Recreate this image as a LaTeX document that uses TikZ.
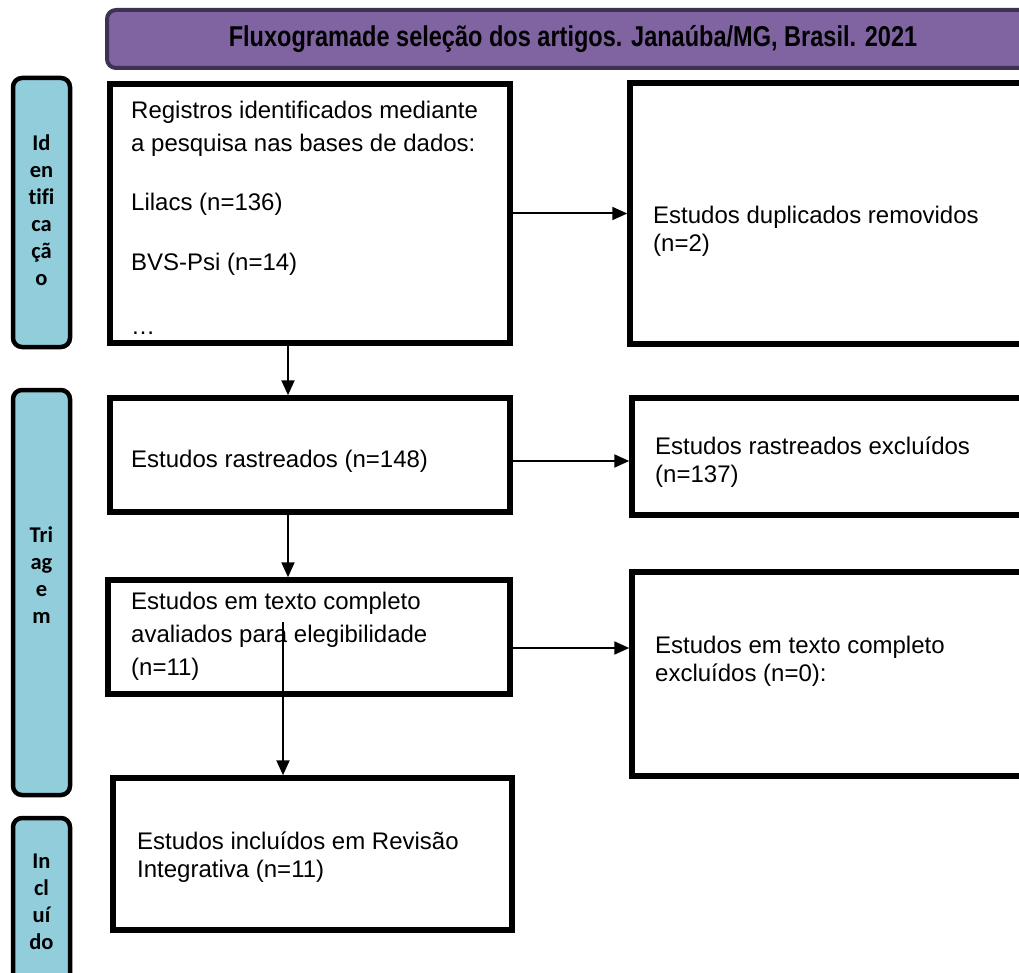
\documentclass[tikz,border=0pt]{standalone}
\usepackage{fontspec}
\setmainfont{Liberation Sans}
\newfontfamily\sidefont[Ligatures=NoCommon]{Carlito}
\newfontfamily\titlefont[FakeStretch=0.82]{Liberation Sans}
\usetikzlibrary{arrows.meta,calc}
\definecolor{titlefill}{HTML}{8064A2}
\definecolor{titledraw}{HTML}{3F3151}
\definecolor{sidefill}{HTML}{92CDDC}
\begin{document}
\begin{tikzpicture}[x=1pt,y=-1pt,
 box/.style={draw=black, line width=5.5pt, fill=white, rectangle, inner sep=0pt},
 sidebox/.style={draw=black, line width=4.5pt, fill=sidefill, rounded corners=9pt, inner sep=0pt},
 titlebox/.style={draw=titledraw, line width=4pt, fill=titlefill, rounded corners=9pt, inner sep=0pt},
 titletext/.style={font=\titlefont\bfseries\fontsize{28.7}{32}\selectfont, inner sep=0pt},
 sidetext/.style={font=\sidefont\bfseries\fontsize{22.5}{27}\selectfont, align=center, inner sep=0pt},
 ltext/.style={font=\fontsize{24}{33}\selectfont, align=left, anchor=north west, inner sep=0pt},
 rtext/.style={font=\fontsize{24}{28}\selectfont, align=left, anchor=north west, inner sep=0pt},
 arr/.style={line width=2pt, -{Triangle[length=15pt,width=13pt]}}]
\useasboundingbox (0,0) rectangle (1019,973);
\clip (0,0) rectangle (1019,973);
\fill[white] (0,0) rectangle (1019,973);

% title
\node[titlebox, minimum width=933pt, minimum height=58pt] (title) at (573.5,39) {};
\node[titletext] (titlet) at (573,39) {Fluxogramade seleção dos artigos. Janaúba/MG, Brasil. 2021};

% side boxes
\node[sidebox, minimum width=57pt, minimum height=269pt] (sid) at (41.5,212.5) {};
\node[sidetext] (sidt) at (41.5,210) {Id\\en\\t\kern0pt i\kern0pt f\kern0pt i\\ca\\çã\\o};
\node[sidebox, minimum width=57pt, minimum height=405pt] (stri) at (41.5,592.5) {};
\node[sidetext] (strit) at (41.5,575) {Tri\\ag\\e\\m};
\node[sidebox, minimum width=57pt, minimum height=177pt] (sinc) at (41.5,906.5) {};
\node[sidetext] (sinct) at (41.5,902) {In\\cl\\uí\\do};

% left boxes
\node[box, minimum width=400pt, minimum height=259pt] (b1) at (310,213.5) {};
\node[ltext] (b1t) at (131,101) {Registros identificados mediante\\a pesquisa nas bases de dados:\\[26pt]Lilacs (n=136)\\[27pt]BVS-Psi (n=14)\\[31pt]\dots};
\node[box, minimum width=400pt, minimum height=114pt] (b2) at (310,455) {};
\node[ltext] (b2t) at (131,450) {Estudos rastreados (n=148)};
\node[box, minimum width=402pt, minimum height=114pt] (b3) at (309,637) {};
\node[ltext] (b3t) at (131,592) {Estudos em texto completo\\avaliados para elegibilidade\\(n=11)};
\node[box, minimum width=399pt, minimum height=152pt] (b4) at (312.5,854) {};
\node[rtext] (b4t) at (137,832) {Estudos incluídos em Revisão\\Integrativa (n=11)};

% right boxes
\node[box, minimum width=410pt, minimum height=261pt] (r1) at (835,213.5) {};
\node[rtext] (r1t) at (653,206) {Estudos duplicados removidos\\(n=2)};
\node[box, minimum width=408pt, minimum height=117pt] (r2) at (836,456.5) {};
\node[rtext] (r2t) at (655,437) {Estudos rastreados excluídos\\(n=137)};
\node[box, minimum width=408pt, minimum height=204pt] (r3) at (836,674) {};
\node[rtext] (r3t) at (655,636) {Estudos em texto completo\\excluídos (n=0):};

% helper coordinates
\coordinate (cx1) at (288,0);
\coordinate (cx2) at (283,0);
\coordinate (y2) at (0,461);
\coordinate (y3) at (0,648);
\coordinate (a6s) at (283,622);

% connectors
\draw[arr] (b1.east) -- (r1.west |- b1.east);
\draw[arr] (cx1 |- b1.south) -- (cx1 |- b2.north);
\draw[arr] (b2.east |- y2) -- (r2.west |- y2);
\draw[arr] (cx1 |- b2.south) -- (cx1 |- b3.north);
\draw[arr] (b3.east |- y3) -- (r3.west |- y3);
\draw[arr] (a6s) -- (cx2 |- b4.north);
\end{tikzpicture}
\end{document}
